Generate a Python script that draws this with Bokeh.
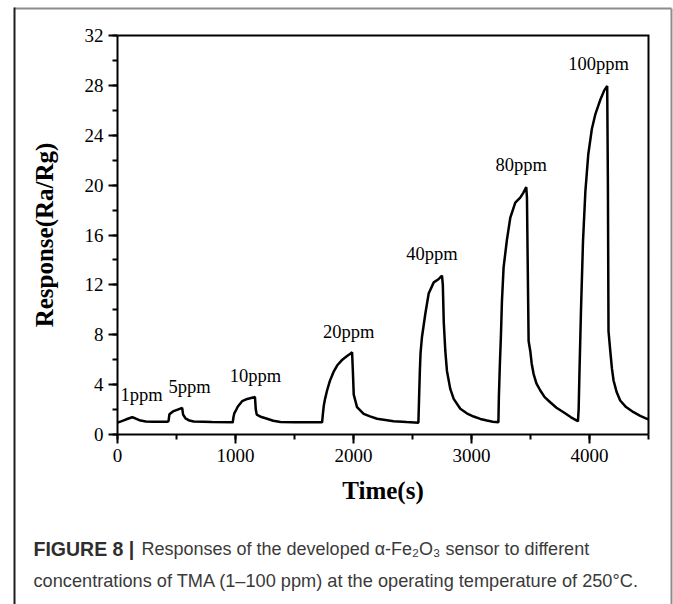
from bokeh.plotting import figure
from bokeh.models import Range1d, SingleIntervalTicker, ColumnDataSource, LinearAxis
from bokeh.core.properties import value
from bokeh.embed import file_html
from bokeh.resources import INLINE

# ---- data ----
time_s = [0, 30, 70, 124, 150, 195, 240, 300, 420,
          432, 440, 470, 510, 548, 556, 576, 610, 646, 800, 975,
          977, 983, 990, 1000, 1020, 1056, 1100, 1140, 1165, 1172, 1180, 1220, 1268, 1320, 1381, 1500, 1734,
          1740, 1748, 1760, 1776, 1800, 1830, 1861, 1900, 1940, 1970, 1988, 1995, 2002, 2030, 2086, 2140, 2200, 2340, 2450, 2550,
          2556, 2562, 2568, 2580, 2609, 2637, 2680, 2720, 2750, 2757, 2765, 2778, 2792, 2820, 2849, 2905, 2960, 3018, 3075, 3131, 3180, 3228,
          3232, 3240, 3250, 3258, 3272, 3300, 3329, 3371, 3413, 3440, 3464, 3470, 3476, 3484, 3498, 3510, 3526, 3550, 3583, 3620, 3667, 3720, 3780, 3840, 3893, 3902,
          3908, 3915, 3928, 3945, 3965, 3990, 4020, 4050, 4090, 4125, 4150, 4156, 4161, 4176, 4190, 4204, 4230, 4260, 4310, 4373, 4430, 4487, 4500]
response = [0.95, 1.05, 1.2, 1.38, 1.3, 1.12, 1.05, 1.03, 1.02,
            1.05, 1.62, 1.85, 2.0, 2.14, 1.6, 1.3, 1.12, 1.04, 1.0, 0.98,
            1.0, 1.4, 1.7, 1.87, 2.25, 2.67, 2.85, 2.95, 3.0, 2.0, 1.6, 1.4, 1.26, 1.1, 1.0, 0.98, 0.98,
            1.6, 2.3, 2.9, 3.53, 4.3, 5.0, 5.53, 5.95, 6.25, 6.45, 6.6, 5.0, 3.2, 2.2, 1.66, 1.45, 1.26, 1.07, 1.0, 0.94,
            3.0, 5.0, 6.5, 7.8, 9.7, 11.3, 12.2, 12.45, 12.75, 12.0, 9.0, 6.7, 5.1, 3.66, 2.86, 2.06, 1.7, 1.44, 1.25, 1.12, 1.03, 0.98,
            3.0, 5.5, 8.1, 10.7, 13.4, 15.6, 17.4, 18.6, 19.0, 19.4, 19.85, 19.0, 14.0, 7.5, 6.7, 5.7, 4.87, 4.1, 3.53, 3.0, 2.59, 2.15, 1.79, 1.4, 1.12, 1.05,
            2.0, 5.0, 10.0, 15.5, 19.5, 22.5, 24.5, 25.7, 26.8, 27.6, 27.95, 20.0, 8.3, 6.7, 5.3, 4.33, 3.4, 2.73, 2.2, 1.79, 1.5, 1.26, 1.22]

label_text = ["1ppm", "5ppm", "10ppm", "20ppm", "40ppm", "80ppm", "100ppm"]
label_t = [203, 610, 1169, 1959, 2665, 3422, 4076]
label_r = [3.13, 3.8, 4.73, 8.2, 14.5, 21.6, 29.75]

x_ticks_interval = 1000
y_ticks_interval = 4
T_MAX = 4500
R_MAX = 32

caption_bold = "FIGURE 8 |"
caption_line1 = "Responses of the developed \u03b1-Fe\u2082O\u2083 sensor to different"
caption_line2 = "concentrations of TMA (1\u2013100 ppm) at the operating temperature of 250\u00b0C."

# ---- layout (pixels on the canvas) ----
W, H = 673, 604
FRAME_L, FRAME_R, FRAME_T, FRAME_B = 117, 648, 35, 434
kx = T_MAX / (FRAME_R - FRAME_L)
ky = R_MAX / (FRAME_B - FRAME_T)

# the whole canvas is the frame, in pixel coordinates (y downward)
p = figure(width=W, height=H, output_backend="svg", toolbar_location=None,
           x_range=Range1d(0, W), y_range=Range1d(H, 0),
           x_axis_location=None, y_axis_location=None,
           min_border=0, min_border_left=0, min_border_right=0,
           min_border_top=0, min_border_bottom=0,
           background_fill_color="white", border_fill_color="white")
p.outline_line_color = None
p.xgrid.visible = False
p.ygrid.visible = False

# chart coordinates: time (s) and response, mapped onto the plot box
p.extra_x_ranges = {"t": Range1d(-FRAME_L * kx, (W - FRAME_L) * kx)}
p.extra_y_ranges = {"r": Range1d(-(H - FRAME_B) * ky, R_MAX + FRAME_T * ky)}

xaxis = LinearAxis(x_range_name="t", y_range_name="r", fixed_location=0, bounds=(0, T_MAX),
                   ticker=SingleIntervalTicker(interval=x_ticks_interval, num_minor_ticks=2),
                   axis_label="Time(s)")
yaxis = LinearAxis(x_range_name="t", y_range_name="r", fixed_location=0, bounds=(0, R_MAX),
                   ticker=SingleIntervalTicker(interval=y_ticks_interval, num_minor_ticks=2),
                   axis_label="Response(Ra/Rg)")
for ax in (xaxis, yaxis):
    ax.axis_line_width = 2
    ax.axis_line_color = "black"
    ax.major_tick_line_width = 2
    ax.minor_tick_line_width = 2
    ax.major_tick_line_color = "black"
    ax.minor_tick_line_color = "black"
    ax.major_tick_in = 0
    ax.major_tick_out = 9
    ax.minor_tick_in = 0
    ax.minor_tick_out = 5
    ax.major_label_text_font = "Liberation Serif"
    ax.major_label_text_font_size = "19px"
    ax.major_label_text_color = "black"
    ax.major_label_standoff = 5
    ax.axis_label_text_font = "Liberation Serif"
    ax.axis_label_text_font_style = "bold"
    ax.axis_label_text_font_size = "25px"
    ax.axis_label_text_color = "black"
yaxis.axis_label_standoff = 24
xaxis.axis_label_standoff = 12
p.add_layout(xaxis, "below")
p.add_layout(yaxis, "left")

# top and right sides of the plot box
p.line(x=[0, T_MAX, T_MAX], y=[R_MAX, R_MAX, 0], x_range_name="t", y_range_name="r",
       line_color="black", line_width=2, line_join="miter")

# response curve
p.line(time_s, response, x_range_name="t", y_range_name="r",
       line_color="black", line_width=2.5)

src = ColumnDataSource(dict(x=label_t, y=label_r, t=label_text))
p.text(x="x", y="y", text="t", source=src, x_range_name="t", y_range_name="r",
       text_font=value("Liberation Serif"), text_font_size=value("18.5px"),
       text_align="center", text_baseline="middle", text_color="black")

# outer figure border (pixel coordinates)
BORDER_L, BORDER_R, BORDER_T = 14, 671, 8
p.line(x=[BORDER_L, BORDER_R], y=[BORDER_T, BORDER_T], line_color="#8c8c8c", line_width=2)
p.line(x=[BORDER_R, BORDER_R], y=[BORDER_T, H], line_color="#8c8c8c", line_width=2)
p.line(x=[BORDER_L, BORDER_L], y=[BORDER_T - 1, H], line_color="#1e1e1e", line_width=2)

# caption (pixel coordinates)
CAP_X, CAP_X2, CAP_Y1, CAP_Y2 = 33, 141, 548, 580
p.text(x=[CAP_X], y=[CAP_Y1], text=[caption_bold], text_font=value("Liberation Sans"),
       text_font_size=value("19.5px"), text_font_style="bold", text_color="#2e2e2e",
       text_baseline="middle", text_align="left")
p.text(x=[CAP_X2], y=[CAP_Y1], text=[caption_line1], text_font=value("Liberation Sans"),
       text_font_size=value("18px"), text_color="#3a3a3a",
       text_baseline="middle", text_align="left")
p.text(x=[CAP_X], y=[CAP_Y2], text=[caption_line2], text_font=value("Liberation Sans"),
       text_font_size=value("18.2px"), text_color="#3a3a3a",
       text_baseline="middle", text_align="left")

open("out.html", "w").write(file_html(p, INLINE))
